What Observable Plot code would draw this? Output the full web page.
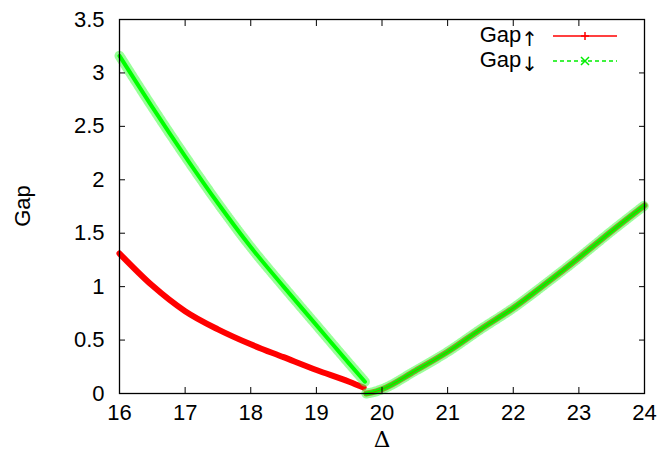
<!DOCTYPE html>
<html>
<head>
<meta charset="utf-8">
<script src="https://cdn.jsdelivr.net/npm/d3@7"></script>
<script src="https://cdn.jsdelivr.net/npm/@observablehq/plot@0.6"></script>
<style>
  html, body { margin: 0; padding: 0; background: #fff; }
</style>
</head>
<body>
<div id="chart"></div>
<script>
// ---- data ----
const xUpLeft   = [16, 16.5, 17, 17.5, 18, 18.5, 19, 19.5, 19.72];
const gapUpLeft = [1.31, 1.01, 0.77, 0.60, 0.46, 0.34, 0.22, 0.11, 0.055];

const xDownLeft   = [16, 16.5, 17, 17.5, 18, 18.5, 19, 19.5, 19.74];
const gapDownLeft = [3.16, 2.68, 2.22, 1.78, 1.37, 1.00, 0.64, 0.28, 0.11];

const xRight   = [19.76, 19.85, 20, 20.5, 21, 21.5, 22, 22.5, 23, 23.5, 24];
const gapRight = [0.0, 0.01, 0.04, 0.21, 0.39, 0.60, 0.80, 1.03, 1.27, 1.52, 1.76];

const xTicks = [16, 17, 18, 19, 20, 21, 22, 23, 24];
const yTicks = [0, 0.5, 1, 1.5, 2, 2.5, 3, 3.5];
const seriesNames = ["Gap↑", "Gap↓"];
const xLabel = "Δ";
const yLabel = "Gap";

const up = [
  ...xUpLeft.map((x, i) => ({x, y: gapUpLeft[i], b: "L"})),
  ...xRight.map((x, i) => ({x, y: gapRight[i], b: "R"}))
];
const down = [
  ...xDownLeft.map((x, i) => ({x, y: gapDownLeft[i], b: "L"})),
  ...xRight.map((x, i) => ({x, y: gapRight[i], b: "R"}))
];

const font = "'Liberation Sans', Arial, Helvetica, sans-serif";
const fmt = d3.format("~g");
const FS = 22;

const plot = Plot.plot({
  width: 664,
  height: 461,
  marginLeft: 119,
  marginRight: 20,
  marginTop: 19,
  marginBottom: 68,
  style: "font-family: 'Liberation Sans', Arial, sans-serif; font-size: 22px; background: #fff; color: #000;",
  x: {domain: [16, 24]},
  y: {domain: [0, 3.5]},
  marks: [
    Plot.line(up, {x: "x", y: "y", z: "b", stroke: "#ff0000", strokeWidth: 6, curve: "monotone-x"}),
    Plot.line(down, {x: "x", y: "y", z: "b", stroke: "#55ff55", strokeWidth: 10, strokeOpacity: 0.6, strokeDasharray: "1.5,1", curve: "monotone-x"}),
    Plot.line(down, {x: "x", y: "y", z: "b", stroke: "#00ff00", strokeWidth: 4, curve: "monotone-x"}),
    Plot.line(up.filter(d => d.b === "R"), {x: "x", y: "y", stroke: "#dd2200", strokeWidth: 1, strokeOpacity: 0.55, curve: "monotone-x"}),
    Plot.frame({stroke: "#000", strokeWidth: 1.3}),
    Plot.axisX(xTicks, {anchor: "bottom", tickSize: 0, tickPadding: 11, tickFormat: fmt, label: null, fontSize: FS}),
    Plot.axisX(xTicks, {anchor: "bottom", tickSize: -6, tickFormat: () => "", label: null}),
    Plot.axisX(xTicks, {anchor: "top", tickSize: -6, tickFormat: () => "", label: null}),
    Plot.axisY(yTicks, {anchor: "left", tickSize: 0, tickPadding: 15, tickFormat: fmt, label: null, fontSize: FS}),
    Plot.axisY(yTicks, {anchor: "left", tickSize: -6, tickFormat: () => "", label: null}),
    Plot.axisY(yTicks, {anchor: "right", tickSize: -6, tickFormat: () => "", label: null}),
    Plot.text([xLabel], {frameAnchor: "bottom", dy: 53, fontFamily: "'DejaVu Serif', 'Liberation Serif', serif", fontSize: 23})
  ]
});

document.getElementById("chart").appendChild(plot);
const svg = d3.select(plot);

// y-axis title (rotated)
svg.append("text")
  .attr("transform", "translate(22,206) rotate(-90)")
  .attr("text-anchor", "middle")
  .attr("dy", "0.35em")
  .attr("font-family", font)
  .attr("font-size", FS)
  .text(yLabel);

// ---- legend (inside top-right, gnuplot style) ----
const leg = svg.append("g").attr("font-family", font).attr("font-size", FS);
const legItems = [
  {name: seriesNames[0], color: "#ff0000", dash: null, marker: "plus", y: 36},
  {name: seriesNames[1], color: "#00ee00", dash: "4,3", marker: "cross", y: 61}
];
legItems.forEach(d => {
  const t = leg.append("text").attr("x", 538).attr("y", d.y + 6).attr("text-anchor", "end");
  t.append("tspan").text(d.name.slice(0, 3));
  t.append("tspan").attr("dy", 4).attr("font-family", "'DejaVu Sans', sans-serif").attr("font-size", 20).text(d.name.slice(3));
  leg.append("line").attr("x1", 553).attr("x2", 617).attr("y1", d.y).attr("y2", d.y)
    .attr("stroke", d.color).attr("stroke-width", 1.5).attr("stroke-dasharray", d.dash);
  const m = 4;
  if (d.marker === "plus") {
    leg.append("path").attr("d", `M${585 - m},${d.y}H${585 + m}M585,${d.y - m}V${d.y + m}`)
      .attr("stroke", d.color).attr("stroke-width", 1.5);
  } else {
    leg.append("path").attr("d", `M${585 - m},${d.y - m}L${585 + m},${d.y + m}M${585 - m},${d.y + m}L${585 + m},${d.y - m}`)
      .attr("stroke", d.color).attr("stroke-width", 1.5);
  }
});
</script>
</body>
</html>
